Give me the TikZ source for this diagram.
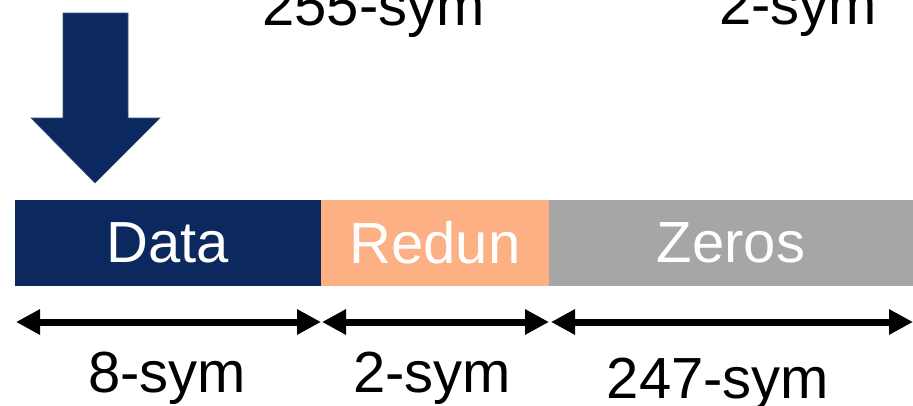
\documentclass[tikz,border=0pt]{standalone}
\usepackage{fontspec}
\setmainfont{Liberation Sans}
\usetikzlibrary{arrows.meta}
\definecolor{navy}{HTML}{0B295E}
\definecolor{peach}{HTML}{FCB084}
\definecolor{grayz}{HTML}{A6A6A6}
\begin{document}
\begin{tikzpicture}[x=1pt,y=-1pt,
  lbl/.style={font=\fontsize{58}{60}\selectfont, anchor=base, inner sep=0pt},
  seg/.style={minimum height=86pt, inner sep=0pt, outer sep=0pt, anchor=north west, font=\fontsize{58}{60}\selectfont, text=white},
  dim/.style={line width=7pt, {Triangle[length=24pt,width=24pt]}-{Triangle[length=24pt,width=24pt]}}]
\useasboundingbox (0,0) rectangle (913,405);
% top labels (cut off)
\node[lbl] (t1) at (373.5,25) {255-sym};
\node[lbl] (t2) at (798,24) {2-sym};
% down arrow
\fill[navy, draw=navy!80!white, line width=0.6pt] (63,13) -- (128,13) -- (128,118) -- (160,118) -- (95,183) -- (31,118) -- (63,118) -- cycle;
% bars
\node[seg, fill=navy, minimum width=306pt] (data) at (15,200) {Data};
\node[seg, fill=peach, minimum width=228pt] (redun) at (321,200) {Redun};
\node[seg, fill=grayz, minimum width=364pt] (zeros) at (549,200) {Zeros};
% dimension arrows
\coordinate (a0) at (16,322);
\coordinate (a1) at (321,322);
\coordinate (b0) at (322,322);
\coordinate (b1) at (549,322);
\coordinate (c0) at (551,322);
\coordinate (c1) at (913,322);
\draw[dim] (a0) -- (a1);
\draw[dim] (b0) -- (b1);
\draw[dim] (c0) -- (c1);
% bottom labels
\node[lbl] (l1) at (167,392) {8-sym};
\node[lbl] (l2) at (432,392) {2-sym};
\node[lbl] (l3) at (718,398) {247-sym};
\end{tikzpicture}
\end{document}
